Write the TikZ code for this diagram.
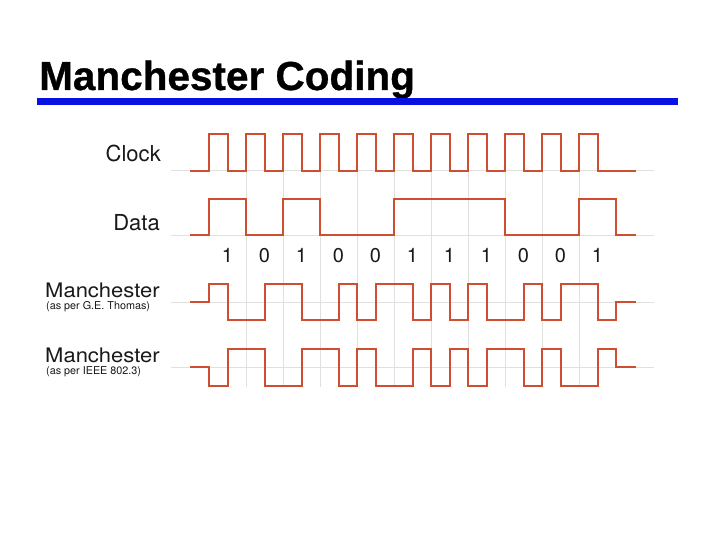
\documentclass[tikz,border=0pt]{standalone}
\usepackage{fontspec}
\setmainfont{TeX Gyre Heros}
\newfontfamily\titlefont[FakeBold=0.8]{Liberation Sans Bold}
\definecolor{sigred}{RGB}{208,78,48}
\definecolor{gridgray}{RGB}{224,224,224}
\definecolor{rulblue}{RGB}{8,16,228}
\definecolor{labtext}{RGB}{25,25,25}
\newcommand\mcpath[3]{%
  \draw[sigline] (190,#3) -- (209,#3) -- (209,#1) -- (227.5,#1) -- (227.5,#2) -- (264.5,#2) -- (264.5,#1)
    -- (301.5,#1) -- (301.5,#2) -- (338.5,#2) -- (338.5,#1) -- (357,#1) -- (357,#2) -- (375.5,#2)
    -- (375.5,#1) -- (412.5,#1) -- (412.5,#2) -- (431,#2) -- (431,#1) -- (449.5,#1) -- (449.5,#2)
    -- (468,#2) -- (468,#1) -- (486.5,#1) -- (486.5,#2) -- (523.5,#2) -- (523.5,#1) -- (542,#1)
    -- (542,#2) -- (560.5,#2) -- (560.5,#1) -- (597.5,#1) -- (597.5,#2) -- (616,#2) -- (616,#3) -- (636,#3);}
\begin{document}
\begin{tikzpicture}[x=1pt,y=-1pt,
  sigline/.style={draw=sigred,line width=2pt},
  gridline/.style={draw=gridgray,line width=1pt},
  lab/.style={inner sep=0pt,text=labtext,font=\fontsize{22}{22}\selectfont},
  manlab/.style={inner sep=0pt,text=labtext,font=\fontsize{20}{20}\selectfont},
  sublab/.style={inner sep=0pt,text=labtext,font=\fontsize{10.8}{11}\selectfont},
  digit/.style={inner sep=0pt,text=labtext,font=\fontsize{20}{20}\selectfont}]
\fill[white] (0,0) rectangle (720,540);
\useasboundingbox (0,0) rectangle (720,540);
% title
\node[inner sep=0pt,anchor=base west,font=\titlefont\fontsize{40.5}{41}\selectfont] (title) at (39,90) {Manchester Coding};
\fill[rulblue] (37,98) rectangle (678,105);
% grid
\foreach \y in {171,235,302,367} \draw[gridline] (171,\y) -- (654,\y);
\foreach \k in {1,...,10} \draw[gridline] ({209+37*\k},171) -- ({209+37*\k},387);
% clock
\draw[sigline] (190,171) -- (209,171)
  foreach \i in {0,...,10} { -- ({209+37*\i},134) -- ({227.5+37*\i},134) -- ({227.5+37*\i},171) -- ({246+37*\i},171) }
  -- (636,171);
% data
\draw[sigline] (190,235) -- (209,235) -- (209,199) -- (246,199) -- (246,235) -- (283,235) -- (283,199)
  -- (320,199) -- (320,235) -- (394,235) -- (394,199) -- (505,199) -- (505,235) -- (579,235)
  -- (579,199) -- (616,199) -- (616,235) -- (636,235);
% manchester
\mcpath{284}{320}{302}
\mcpath{386}{349}{367}
% labels
\node[lab,anchor=base east] (clock) at (161,162) {Clock};
\node[lab,anchor=base east] (data) at (160,230) {Data};
\node[manlab,anchor=base west] (man1) at (45,297) {\scalebox{1.1}[1]{Manchester}};
\node[sublab,anchor=base west] (man1sub) at (46,309.5) {(as per G.E. Thomas)};
\node[manlab,anchor=base west] (man2) at (45,362) {\scalebox{1.1}[1]{Manchester}};
\node[sublab,anchor=base west] (man2sub) at (46,374.5) {(as per IEEE 802.3)};
\foreach \b [count=\i from 0] in {1,0,1,0,0,1,1,1,0,0,1}
  \node[digit,anchor=base] (d\i) at ({227.5+37*\i},262) {\b};
\end{tikzpicture}
\end{document}
